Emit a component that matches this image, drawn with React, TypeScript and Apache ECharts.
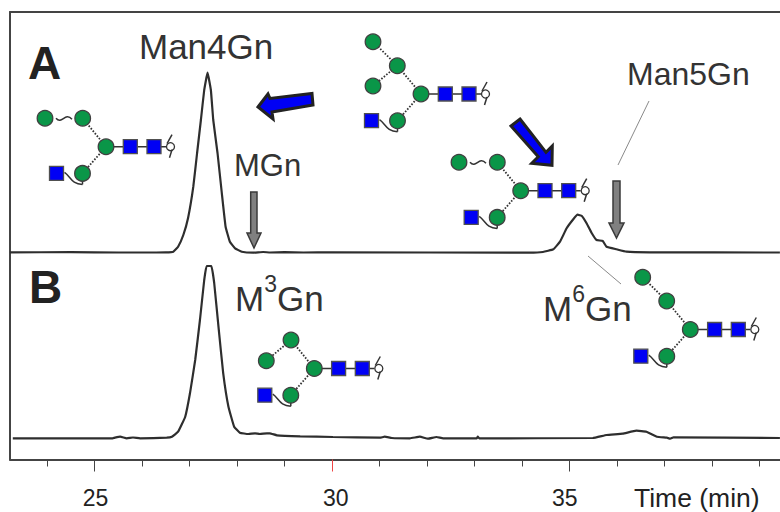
import React, { useEffect, useRef } from "react";
import * as echarts from "echarts";

const timesA = [23.22,24.5,25.5,26.3,26.5,26.66,26.76,26.87,26.97,27.08,27.16,27.24,27.31,27.38,27.45,27.5,27.59,27.68,27.76,27.85,27.96,28.1,28.34,28.55,28.7,29,29.4,30,34.16,34.44,34.66,34.8,34.94,35.08,35.17,35.26,35.36,35.47,35.57,35.7,35.78,35.99,36.2,36.69,39.43];
const heightsA = [0.2,0.3,0,0,0.1,0.8,5.8,17.5,34.5,65.8,99.5,132.5,162.5,179.8,162.5,132.5,99.5,59.5,25.8,10.8,4.2,0.8,-0.2,0.5,0,0.4,0,0.2,-0.2,0.5,3.2,10.8,24.2,33.2,37.8,36.5,29.2,19.2,12.5,11.5,5.8,3.2,0.8,0.2,0];
const timesB = [23.28,25.38,25.43,25.54,25.68,25.81,25.96,26.52,26.63,26.76,26.91,27.01,27.12,27.22,27.31,27.36,27.46,27.52,27.61,27.71,27.82,27.94,28.06,28.24,28.38,28.48,28.63,28.69,28.84,29.33,30.02,31.01,31.11,31.26,31.64,31.85,32.02,32.2,32.34,33.05,33.07,33.1,35.49,35.78,36.12,36.41,36.62,36.84,37.05,37.12,37.19,39.43];
const heightsB = [0,0,0.6,1.6,0,0.8,0,0.6,1.6,6.6,21.6,45,78.3,118.3,158.3,172.3,172.3,155.3,111.6,65,31.6,11.6,5.6,4.3,5,4.3,5,5,3,2,1.3,0.6,1.6,0.3,0,1.6,-0.4,1.3,0,0,1.6,0,0.3,3.3,4.6,7.6,6.6,1.6,0.6,-0.4,1,0.3];
const minorTicks = [24,26,27,28,29,31,32,33,34,36,37,38,39];
const majorTicks = [25,35];
const redTicks = [30];
const tickLabelPositions = [25.02,30.08,34.9];

const DARK = "#333333";
const GREEN = "#0a9648";
const BLUE = "#0000f5";

type Pt = [number, number];
interface Glycan { core: Pt; dotted: [Pt, Pt][]; circles: Pt[]; wave?: Pt }

const glycans: Glycan[] = [
  { core: [106, 146.7], circles: [[82.7, 118.3], [45, 118.3]], dotted: [[[106, 146.7], [82.7, 118.3]]], wave: [45, 118.3] },
  { core: [421, 94], circles: [[397.3, 65.7], [373, 41.7], [373, 86]], dotted: [[[421, 94], [397.3, 65.7]], [[397.3, 65.7], [373, 41.7]], [[397.3, 65.7], [373, 86]]] },
  { core: [520.7, 190.7], circles: [[497.3, 162.3], [459, 162.3]], dotted: [[[520.7, 190.7], [497.3, 162.3]]], wave: [459, 162.3] },
  { core: [314.3, 368.5], circles: [[291, 340], [266.3, 360.7]], dotted: [[[314.3, 368.5], [291, 340]], [[291, 340], [266.3, 360.7]]] },
  { core: [690.3, 329.5], circles: [[666.7, 301], [642.7, 277.3]], dotted: [[[690.3, 329.5], [666.7, 301]], [[666.7, 301], [642.7, 277.3]]] },
];

function glycanElements(g: Glycan): any[] {
  const [cx, cy] = g.core;
  const out: any[] = [];
  const line = { stroke: DARK, lineWidth: 1.5, fill: "none" };
  const dots = { stroke: DARK, lineWidth: 1.8, lineDash: [1.6, 1.6], fill: "none" };
  const nodeC = (x: number, y: number) => ({ type: "circle", shape: { cx: x, cy: y, r: 7.8 }, style: { fill: GREEN, stroke: "#404040", lineWidth: 1.3 } });
  const nodeS = (x: number, y: number) => ({ type: "rect", shape: { x: x - 7, y: y - 7, width: 14, height: 14 }, style: { fill: BLUE, stroke: "#505050", lineWidth: 1.3 } });
  out.push({ type: "line", shape: { x1: cx, y1: cy, x2: cx + 60, y2: cy }, style: line });
  const bx = cx - 23.5, by = cy + 26.7;
  out.push({ type: "line", shape: { x1: cx, y1: cy, x2: bx, y2: by }, style: dots });
  g.dotted.forEach(([a, b]) => out.push({ type: "line", shape: { x1: a[0], y1: a[1], x2: b[0], y2: b[1] }, style: dots }));
  if (g.wave) {
    const [wx, wy] = g.wave;
    out.push({ type: "bezierCurve", shape: { x1: wx + 11, y1: wy, x2: wx + 27, y2: wy + 1, cpx1: wx + 17, cpy1: wy + 7, cpx2: wx + 20, cpy2: wy - 7 }, style: line });
  }
  out.push({ type: "bezierCurve", shape: { x1: bx - 18, y1: by - 1, x2: bx, y2: by + 11, cpx1: bx - 12, cpy1: by + 3, cpx2: bx - 11, cpy2: by + 11 }, style: line });
  out.push({ type: "line", shape: { x1: bx, y1: by + 11, x2: bx, y2: by + 6 }, style: line });
  g.circles.forEach(([x, y]) => out.push(nodeC(x, y)));
  out.push(nodeC(cx, cy), nodeC(bx, by));
  out.push(nodeS(cx + 24.3, cy), nodeS(cx + 48, cy), nodeS(bx - 26, by));
  out.push({ type: "circle", shape: { cx: cx + 64.5, cy, r: 4 }, style: { fill: "#fff", stroke: DARK, lineWidth: 1.3 } });
  out.push({ type: "polyline", shape: { points: [[cx + 66, cy - 12], [cx + 61, cy - 3]] }, style: line });
  out.push({ type: "polyline", shape: { points: [[cx + 66, cy + 3], [cx + 63.5, cy + 11]] }, style: line });
  return out;
}

const label = (text: string, x: number, y: number, fontSize: number, extra: any = {}) => ({
  type: "text", x, y,
  style: { text, fontSize, fontFamily: "Liberation Sans", fill: "#333333", align: "left", verticalAlign: "middle", ...extra },
});
const supLabel = (first: string, sup: string, rest: string, x: number, y: number) => ({
  type: "text", x, y,
  style: {
    text: `{m|${first}}{s|${sup}}{m|${rest}}`,
    align: "left", verticalAlign: "middle",
    rich: {
      m: { fontSize: 35, fontFamily: "Liberation Sans", fill: "#333333", lineHeight: 52 },
      s: { fontSize: 23, fontFamily: "Liberation Sans", fill: "#333333", verticalAlign: "top", lineHeight: 23 },
    },
  },
});
const grayArrow = (pts: number[][]) => ({ type: "polygon", shape: { points: pts }, style: { fill: "#808080", stroke: "#3a3a3a", lineWidth: 1.5 } });
const blueArrow = (pts: number[][]) => ({ type: "polygon", shape: { points: pts }, style: { fill: BLUE, stroke: "#222222", lineWidth: 3, lineJoin: "miter" } });
const leader = (x1: number, y1: number, x2: number, y2: number) => ({ type: "line", shape: { x1, y1, x2, y2 }, style: { stroke: "#8a8a8a", lineWidth: 1 } });

export default function App() {
  const ref = useRef<HTMLDivElement>(null);
  useEffect(() => {
    const chart = echarts.init(ref.current!, undefined, { renderer: "svg" });
    const xMin = 23.221, xMax = 39.432;
    const hiddenX = { type: "value", min: xMin, max: xMax, splitLine: { show: false } };
    chart.setOption({
      animation: false,
      backgroundColor: "#ffffff",
      tooltip: { show: false },
      grid: { left: 10, right: 0, top: 12, bottom: 52.5, containLabel: false },
      xAxis: [
        { ...hiddenX, position: "bottom", axisLine: { show: true, onZero: false, lineStyle: { color: "#444", width: 2 } },
          axisTick: { show: true, length: 7, customValues: minorTicks, lineStyle: { color: "#444", width: 1 } },
          axisLabel: { show: false } },
        { ...hiddenX, position: "bottom", axisLine: { show: false, onZero: false },
          axisTick: { show: true, length: 12, customValues: majorTicks, lineStyle: { color: "#444", width: 1 } },
          axisLabel: { show: true, customValues: tickLabelPositions, margin: 27, fontSize: 23, fontFamily: "Liberation Sans", color: "#222", formatter: (v: number) => String(Math.round(v)), hideOverlap: false, showMinLabel: true, showMaxLabel: true } },
        { ...hiddenX, position: "bottom", axisLine: { show: false, onZero: false },
          axisTick: { show: true, length: 12, customValues: redTicks, lineStyle: { color: "#ee4444", width: 1 } },
          axisLabel: { show: false } },
        { ...hiddenX, position: "top", axisLine: { show: true, onZero: false, lineStyle: { color: "#444", width: 2 } }, axisTick: { show: false }, axisLabel: { show: false } },
      ],
      yAxis: [
        { type: "value", min: -207, max: 240.5, position: "left", splitLine: { show: false }, axisLine: { show: true, onZero: false, lineStyle: { color: "#444", width: 2 } }, axisTick: { show: false }, axisLabel: { show: false } },
        { type: "value", min: -21.2, max: 426.3, position: "left", splitLine: { show: false }, axisLine: { show: false }, axisTick: { show: false }, axisLabel: { show: false } },
      ],
      series: [
        { name: "A", type: "line", xAxisIndex: 0, yAxisIndex: 0, showSymbol: false, smooth: 0.1, lineStyle: { color: "#2e2e2e", width: 2.2 }, data: timesA.map((t, i) => [t, heightsA[i]]) },
        { name: "B", type: "line", xAxisIndex: 0, yAxisIndex: 1, showSymbol: false, smooth: 0.1, lineStyle: { color: "#2e2e2e", width: 2.2 }, data: timesB.map((t, i) => [t, heightsB[i]]) },
      ],
      graphic: { elements: [
        ...glycans.flatMap(glycanElements),
        label("A", 28, 63, 46, { fontWeight: "bold", fill: "#222" }),
        label("B", 29, 287, 46, { fontWeight: "bold", fill: "#222" }),
        label("Man4Gn", 139, 46, 35),
        label("MGn", 234, 165, 31),
        label("Man5Gn", 627, 74, 32),
        supLabel("M", "3", "Gn", 235, 298),
        supLabel("M", "6", "Gn", 543, 308),
        label("Time (min)", 634, 498, 26.5, { fill: "#222" }),
        leader(649, 101, 618, 165),
        leader(588, 256, 621, 284),
        grayArrow([[250.7, 192], [257, 192], [257, 233], [261, 233], [254, 248], [247, 233], [250.7, 233]]),
        grayArrow([[613, 181], [620, 181], [620, 223], [624, 223], [616.5, 238], [609, 223], [613, 223]]),
        blueArrow([[258, 107], [268, 94], [270, 98.5], [312, 93.5], [313, 105], [272, 112], [273, 119]]),
        blueArrow([[520, 119], [546, 152.3], [552.3, 146], [552, 165.3], [531.7, 163.3], [538.3, 156.7], [511, 126]]),
      ] },
    });
    return () => chart.dispose();
  }, []);
  return <div ref={ref} style={{ position: "absolute", left: 0, top: 0, width: 780, height: 512 }} />;
}
